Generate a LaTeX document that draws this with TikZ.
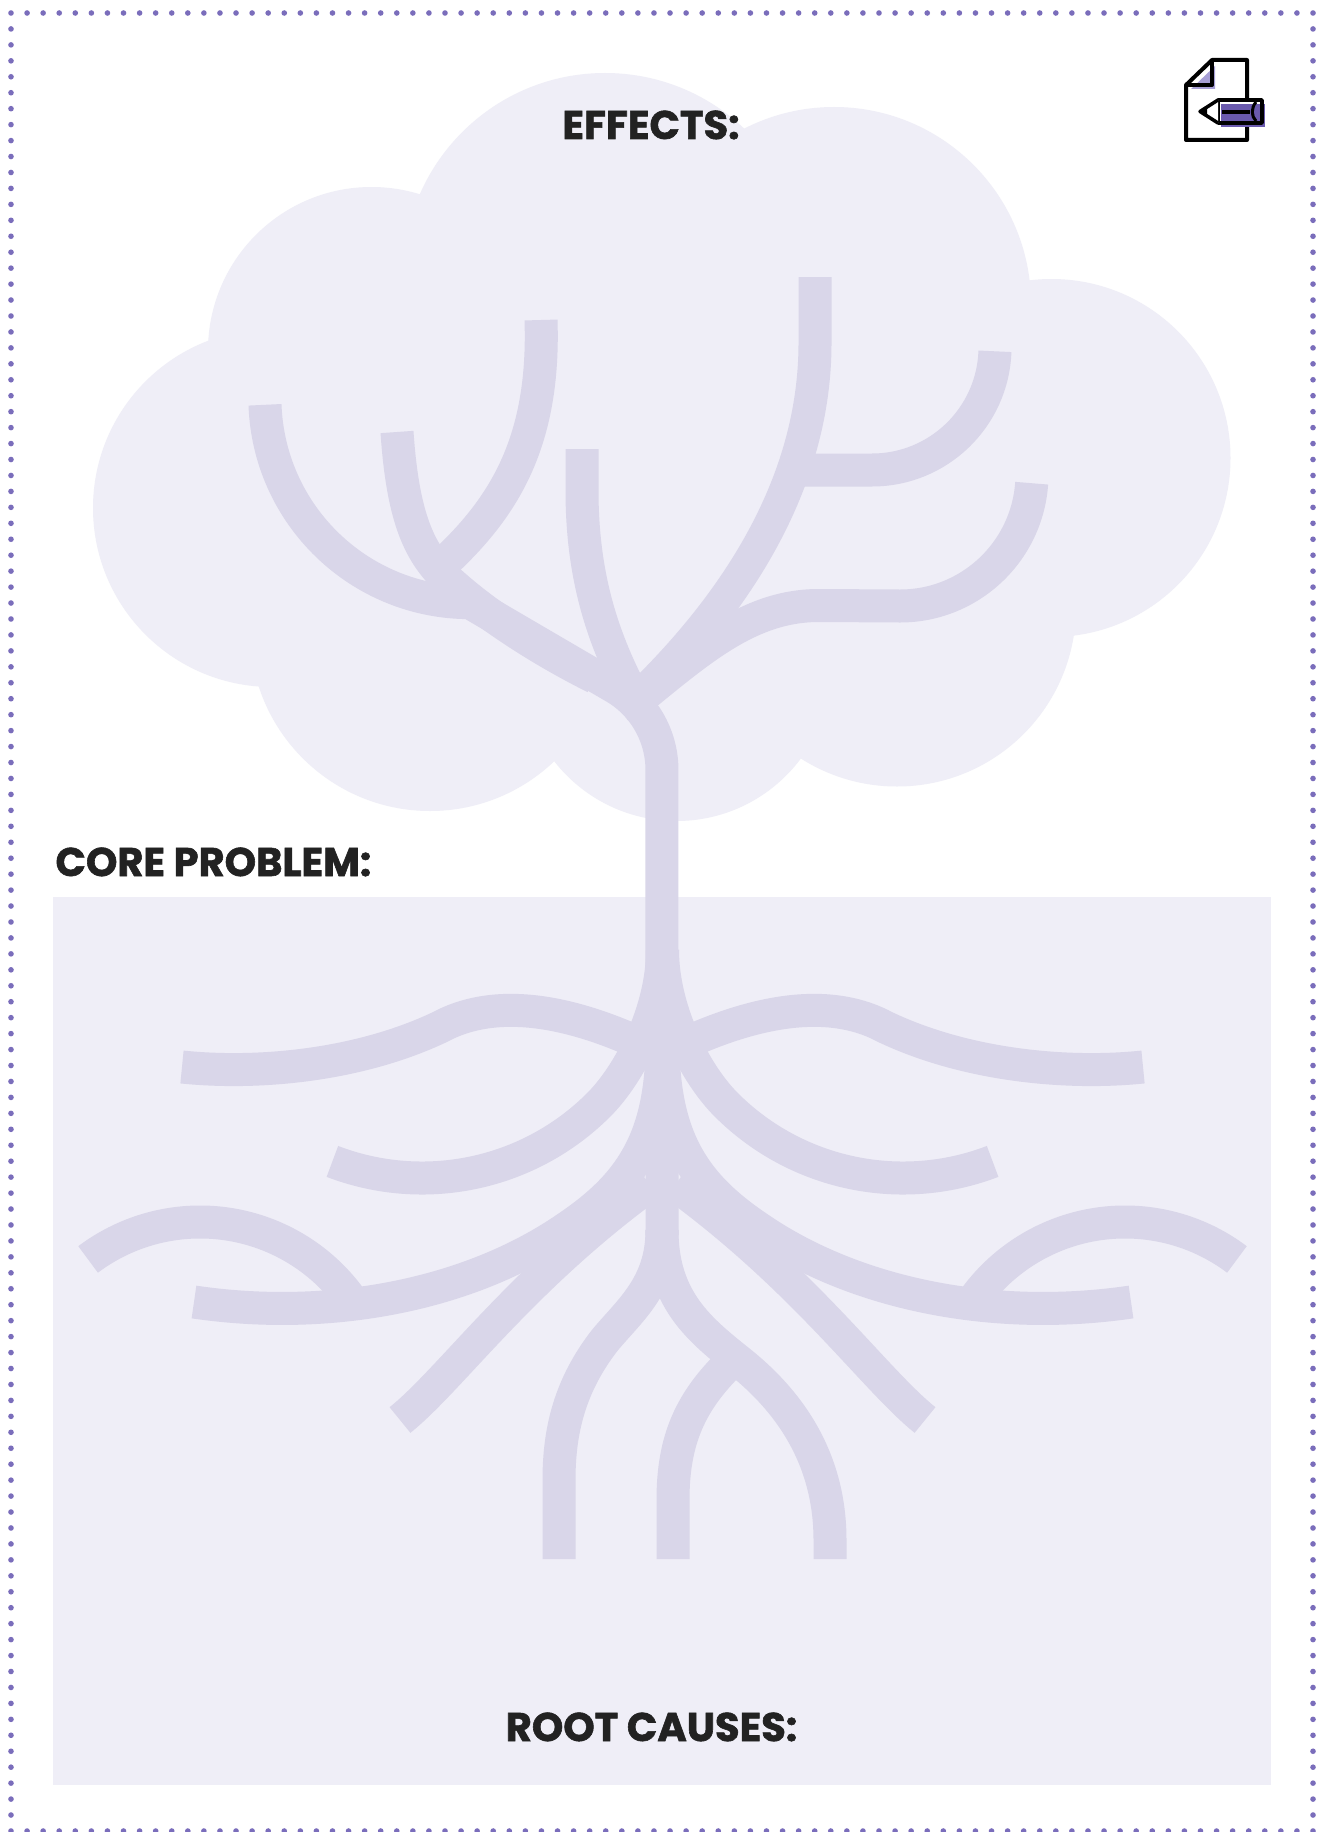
\documentclass[tikz,border=0pt]{standalone}
\usepackage{fontspec}
\newfontfamily\headfont{Poppins}[BoldFeatures={FakeBold=1.5}]
\definecolor{cloudfill}{HTML}{EFEEF7}
\definecolor{branch}{HTML}{D9D6E9}
\definecolor{dotcol}{HTML}{7A6DBB}
\definecolor{inkdark}{HTML}{222222}
\definecolor{pencilpurple}{HTML}{6A5AAE}
\definecolor{foldpurple}{HTML}{A79FD6}

% the root system of one side; the other side is its mirror image
\newcommand{\leftroots}{%
  % long upper root
  \draw[limb] (182,1067) .. controls (260,1075) and (360,1065) .. (440,1027)
              .. controls (490,1000) and (560,1005) .. (650,1048);
  % curved root that rises into the trunk
  \draw[limb] (332.4,1161.4) arc[start angle=111, end angle=45, radius=250]
              .. controls (630,1073.5) and (662.5,1010) .. (662.5,950);
  % long lower root
  \draw[limb] (194,1302) .. controls (330,1322) and (470,1295) .. (568,1227)
              .. controls (630,1185) and (660,1140) .. (662,1050);
  % arched side root
  \draw[limb] (352.4,1301.3) arc[start angle=-35, end angle=-127, radius=186];
  % diagonal root
  \draw[limb] (400,1420) .. controls (450,1380) and (520,1280) .. (650,1185);
}

\begin{document}
\begin{tikzpicture}[x=0.4pt,y=-0.4pt,
  limb/.style={draw=branch, line width=13.2pt},
  heading/.style={font=\headfont\bfseries\fontsize{16}{19}\selectfont,
                  text=inkdark, inner sep=0pt},
  iconline/.style={draw=black, line width=1.6pt, line join=round}]

\useasboundingbox (0,0) rectangle (1319,1832);
\fill[white] (0,0) rectangle (1319,1832);

% dotted frame (horizontal step 1302/81, vertical step 1818/114)
\foreach \i in {0,...,81} {
  \fill[dotcol] ({11+\i*16.074},13) circle[radius=2.8];
  \fill[dotcol] ({11+\i*16.074},1831) circle[radius=2.8];
}
\foreach \i in {1,...,113} {
  \fill[dotcol] (11,{13+\i*15.947}) circle[radius=2.8];
  \fill[dotcol] (1313,{13+\i*15.947}) circle[radius=2.8];
}

% crown of the tree
\fill[cloudfill]
  (605,275) circle[radius=202]
  (834,304) circle[radius=197]
  (1051.5,458) circle[radius=179]
  (897,607.5) circle[radius=179]
  (676.5,666) circle[radius=155]
  (430,631) circle[radius=180]
  (272,508) circle[radius=179]
  (371.5,350.5) circle[radius=163.5];
\fill[cloudfill] (605,275) -- (834,304) -- (1051.5,458) -- (897,607.5)
  -- (676.5,666) -- (430,631) -- (272,508) -- (371.5,350.5) -- cycle;

% ground
\fill[cloudfill] (53,897) rectangle (1271,1785);

% trunk with the leftmost bough
\draw[limb] (265,404.8) arc[start angle=178, end angle=90, radius=205]
  -- (612.5,686) arc[start angle=-61, end angle=0, radius=96] -- (662,1235);
% boughs
\draw[limb] (397,432) .. controls (403,520) and (420,555) .. (450.6,582.5)
  .. controls (490,618) and (545,652.4) .. (595,677.4);
\draw[limb] (541,320) .. controls (545,440) and (505,505) .. (447,560);
\draw[limb] (582,449) -- (582,490) .. controls (582,580) and (604,645) .. (642,712);
\draw[limb] (815,277) -- (815,343) .. controls (815,480) and (740,600) .. (636,700);
\draw[limb] (795,470) -- (872,470) arc[start angle=90, end angle=2, radius=123];
\draw[limb] (636,702) .. controls (700,650) and (750,605) .. (820,605.5)
  -- (900,606) arc[start angle=90, end angle=4, radius=132];

% roots
\leftroots
\begin{scope}[xshift=530pt, xscale=-1]
  \leftroots
\end{scope}
\draw[limb] (662,1230) .. controls (662,1285) and (630,1310) .. (605,1340)
  .. controls (570,1385) and (559,1430) .. (559,1480) -- (559,1559);
\draw[limb] (662,1230) .. controls (662,1300) and (700,1330) .. (740,1362)
  .. controls (800,1410) and (830,1470) .. (830,1540) -- (830,1559);
\draw[limb] (735,1358) .. controls (690,1400) and (673,1440) .. (673,1500) -- (673,1559);

% headings
\node[heading, anchor=base] (effects) at (651,139) {EFFECTS:};
\node[heading, anchor=base west] (core) at (55,876) {CORE PROBLEM:};
\node[heading, anchor=base] (causes) at (651.5,1741) {ROOT CAUSES:};

% document-with-pencil icon
\draw[iconline, fill=white] (1186,85) -- (1212,60) -- (1247,60) -- (1247,140)
  -- (1186,140) -- cycle;
\fill[foldpurple] (1191,89) -- (1215,66) -- (1215,89) -- cycle;
\draw[iconline] (1186,85) -- (1212,85) -- (1212,60);
\fill[white] (1218,100) rectangle (1262,123);
\fill[pencilpurple] (1221,104) rectangle (1265,127);
\draw[iconline, line width=1.4pt] (1218,100) rectangle (1262,123);
\draw[iconline, line width=1.4pt, fill=white] (1218,100) -- (1200,111.5) -- (1218,123);
\fill[black] (1200,111.5) -- (1207,107.3) -- (1207,115.7) -- cycle;
\draw[iconline] (1222,112) -- (1250,112);
\draw[iconline, line width=1.2pt] (1256,102) .. controls (1251,108) and (1251,116) .. (1256,121);
\end{tikzpicture}
\end{document}
